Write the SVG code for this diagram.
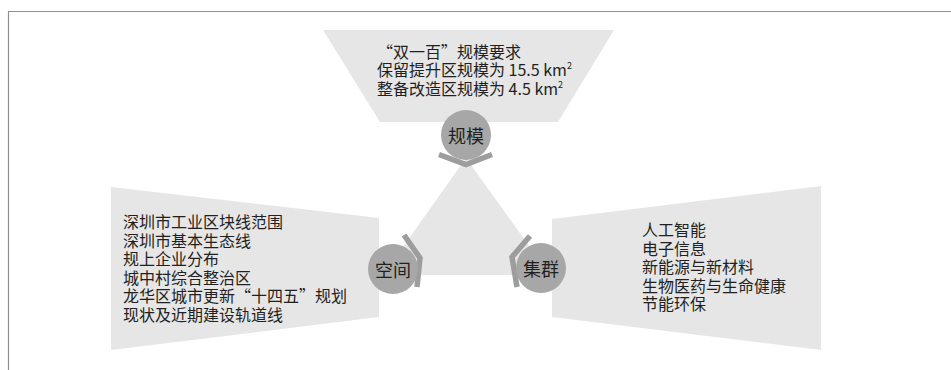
<svg xmlns="http://www.w3.org/2000/svg" width="951" height="370" viewBox="0 0 951 370">
<style>
.panel{fill:#e6e6e7}
.circ{fill:#a7a7a8}
.chev{fill:none;stroke:#9d9d9e;stroke-width:5.5;stroke-linejoin:miter}
.t{font-family:"Noto Sans CJK SC","Noto Sans",sans-serif;font-size:16px;fill:#231f20}
.c{font-family:"Noto Sans CJK SC","Noto Sans",sans-serif;font-size:18px;fill:#231f20;text-anchor:middle;dominant-baseline:central}
.sup{font-size:9px}
</style>
<rect width="951" height="370" fill="#ffffff"/>
<path d="M8.5 370 V11.5 H951" fill="none" stroke="#8f8f8f" stroke-width="1.2"/>
<g id="center">
<polygon class="panel" points="466,158 383,275 550,275"/>
</g>
<g id="connectors">
<polyline class="chev" points="439,154.5 466,164.5 492,154.5"/>
<polyline class="chev" points="404,235 420,258 417,287"/>
<polyline class="chev" points="530,236 512,257 517,287"/>
</g>
<g id="node-scale">
<polygon class="panel" points="323,30 614,30 558,122 380,122"/>
<text class="t"><tspan x="377" y="58">“双一百”规模要求</tspan><tspan x="377" y="76">保留提升区规模为 15.5 km</tspan><tspan class="sup" dy="-7">2</tspan><tspan x="377" y="95">整备改造区规模为 4.5 km</tspan><tspan class="sup" dy="-7">2</tspan></text>
<circle class="circ" cx="466" cy="135" r="25"/>
<text class="c" x="466" y="135">规模</text>
</g>
<g id="node-space">
<polygon class="panel" points="111,187 379,218 379,317 111,350"/>
<text class="t"><tspan x="123" y="228">深圳市工业区块线范围</tspan><tspan x="123" y="246.5">深圳市基本生态线</tspan><tspan x="123" y="265">规上企业分布</tspan><tspan x="123" y="283.5">城中村综合整治区</tspan><tspan x="123" y="302">龙华区城市更新“十四五”规划</tspan><tspan x="123" y="320.5">现状及近期建设轨道线</tspan></text>
<circle class="circ" cx="393" cy="269" r="25"/>
<text class="c" x="393" y="269">空间</text>
</g>
<g id="node-cluster">
<polygon class="panel" points="552,219 821,186 821,350 552,317"/>
<text class="t"><tspan x="642" y="236">人工智能</tspan><tspan x="642" y="254.5">电子信息</tspan><tspan x="642" y="273">新能源与新材料</tspan><tspan x="642" y="291.5">生物医药与生命健康</tspan><tspan x="642" y="310">节能环保</tspan></text>
<circle class="circ" cx="541" cy="268" r="25"/>
<text class="c" x="541" y="268">集群</text>
</g>
</svg>
